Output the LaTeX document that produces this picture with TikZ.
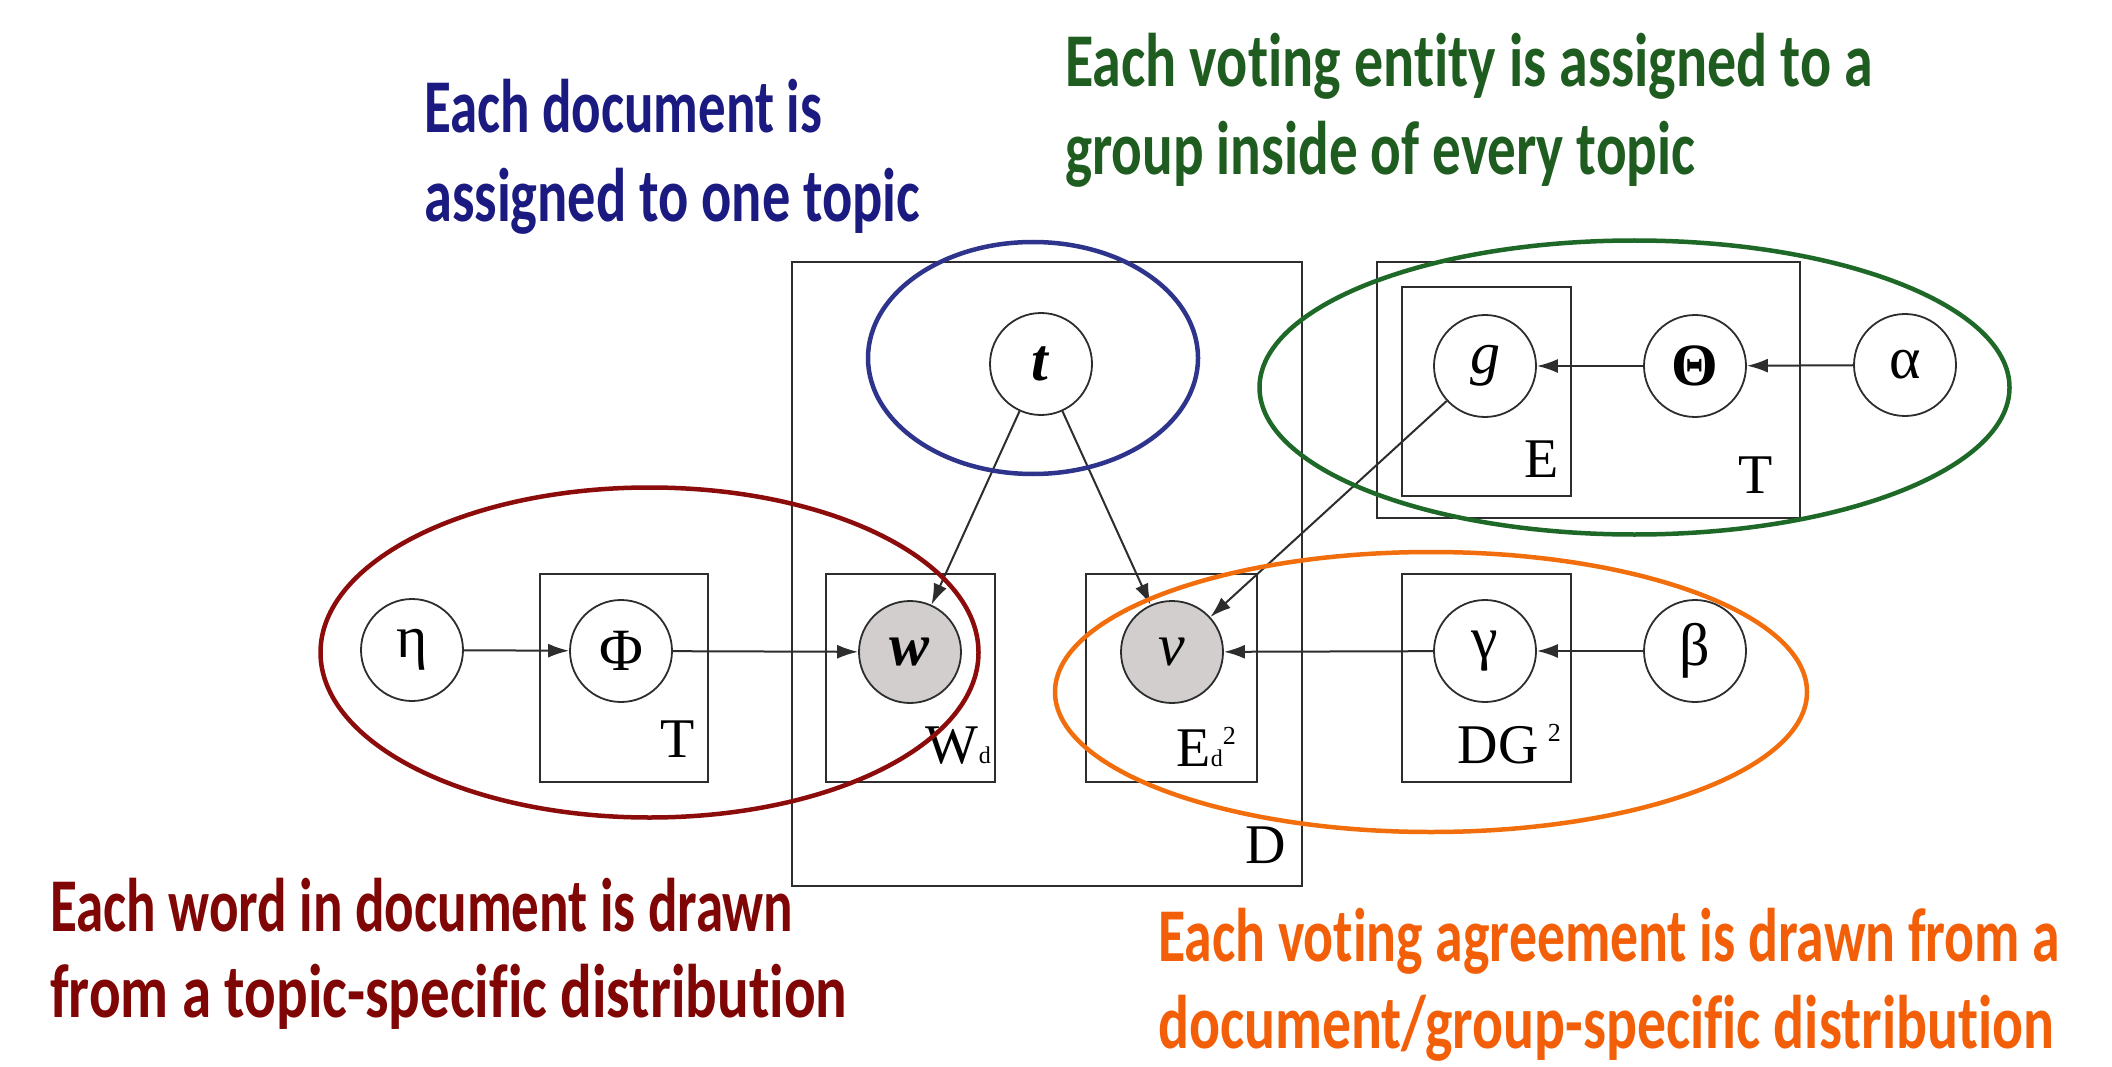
\documentclass[tikz,border=0pt]{standalone}
\usepackage{fontspec}
\setmainfont{Liberation Serif}
\newfontfamily\annfont[FakeStretch=0.7,Ligatures=NoCommon,UprightFont=* Bold]{Carlito}
\usetikzlibrary{arrows.meta}
\newcommand\fitw[2]{\resizebox{#1}{\height}{#2}}
\definecolor{blueT}{RGB}{26,26,128}
\definecolor{blueE}{RGB}{46,52,140}
\definecolor{greenT}{RGB}{30,92,32}
\definecolor{greenE}{RGB}{30,105,40}
\definecolor{redT}{RGB}{128,5,5}
\definecolor{redE}{RGB}{140,12,12}
\definecolor{orangeT}{RGB}{242,95,8}
\definecolor{orangeE}{RGB}{242,110,12}
\definecolor{obsfill}{RGB}{210,206,206}
\definecolor{ink}{RGB}{45,45,45}
\tikzset{
  var/.style={circle, draw=ink, line width=1.8pt, minimum size=102pt, inner sep=0pt, fill=white,
              font=\fontsize{60}{60}\selectfont},
  obs/.style={var, fill=obsfill},
  plate/.style={draw=ink, line width=2.4pt, inner sep=0pt},
  platelabel/.style={anchor=base east, inner sep=0pt, font=\fontsize{56}{56}\selectfont},
  arr/.style={draw=ink, line width=2pt, -{Latex[length=21pt,width=14pt]}},
  ring/.style={line width=4.5pt},
  ann/.style={anchor=base west, inner sep=0pt, font=\annfont\fontsize{76}{88}\selectfont},
}
\begin{document}
\begin{tikzpicture}[x=1pt,y=-1pt]
\useasboundingbox (0,0) rectangle (2112,1067);
\fill[white] (0,0) rectangle (2112,1067);

% plates
\node[plate, minimum width=510pt, minimum height=624pt] (Dplate) at (1047,574) {};
\node[plate, minimum width=168pt, minimum height=208pt] (Tplate) at (624,678) {};
\node[plate, minimum width=169pt, minimum height=208pt] (Wplate) at (910.5,678) {};
\node[plate, minimum width=171pt, minimum height=208pt] (Edplate) at (1171.5,678) {};
\node[plate, minimum width=169pt, minimum height=208pt] (DGplate) at (1486.5,678) {};
\node[plate, minimum width=423pt, minimum height=256pt] (TTplate) at (1588.5,390) {};
\node[plate, minimum width=169pt, minimum height=209pt] (Eplate) at (1486.5,391.5) {};

% plate labels
\node[platelabel] (lT) at (695,757) {T};
\node[platelabel] (lW) at (991,763) {W{\fontsize{24}{24}\selectfont d}};
\node[platelabel] (lEd) at (1236,766) {E{\fontsize{24}{24}\selectfont d}\raisebox{22pt}{\fontsize{26}{26}\selectfont 2}};
\node[platelabel] (lDG) at (1561,763) {DG\,\raisebox{22pt}{\fontsize{26}{26}\selectfont 2}};
\node[platelabel] (lE) at (1559,477) {E};
\node[platelabel] (lTT) at (1773,493) {T};
\node[platelabel] (lD) at (1286,863) {D};

% variables
\node[var] (t) at (1041,364) {\textbf{\textit{t}}};
\node[var] (eta) at (412,650) {η};
\node[var] (phi) at (621,651) {Φ};
\node[obs] (w) at (910,652) {\textbf{\textit{w}}};
\node[obs] (v) at (1172,652) {\textit{v}};
\node[var] (gam) at (1485,651) {γ};
\node[var] (beta) at (1695,651) {β};
\node[var] (g) at (1485,366) {\textit{g}};
\node[var] (theta) at (1695,366) {\textbf{Θ}};
\node[var] (alpha) at (1905,365) {α};

% edges
\draw[arr] (eta) -- (phi);
\draw[arr] (phi) -- (w);
\draw[arr] (t) -- (w);
\draw[arr] (t) -- (v);
\draw[arr] (g) -- (v);
\draw[arr] (gam) -- (v);
\draw[arr] (beta) -- (gam);
\draw[arr] (theta) -- (g);
\draw[arr] (alpha) -- (theta);

% highlight rings
\draw[ring, draw=blueE] (1033,358) ellipse [x radius=165pt, y radius=116pt];
\draw[ring, draw=greenE] (1634.5,387.5) ellipse [x radius=375pt, y radius=147pt];
\draw[ring, draw=redE] (649.5,652.5) ellipse [x radius=329pt, y radius=165pt];
\draw[ring, draw=orangeE] (1431,692) ellipse [x radius=376pt, y radius=140pt];

% annotations
\node[ann, text=blueT] (b1) at (424,133) {\fitw{398pt}{Each document is}};
\node[ann, text=blueT] (b2) at (424,222) {\fitw{496pt}{assigned to one topic}};
\node[ann, text=greenT] (g1) at (1065,87) {\fitw{808pt}{Each voting entity is assigned to a}};
\node[ann, text=greenT] (g2) at (1065,175) {\fitw{630pt}{group inside of every topic}};
\node[ann, text=redT] (r1) at (50,931) {\fitw{743pt}{Each word in document is drawn}};
\node[ann, text=redT] (r2) at (50,1017) {\fitw{797pt}{from a topic-specific distribution}};
\node[ann, text=orangeT] (o1) at (1158,961) {\fitw{902pt}{Each voting agreement is drawn from a}};
\node[ann, text=orangeT] (o2) at (1158,1048) {\fitw{896pt}{document/group-specific distribution}};
\end{tikzpicture}
\end{document}
